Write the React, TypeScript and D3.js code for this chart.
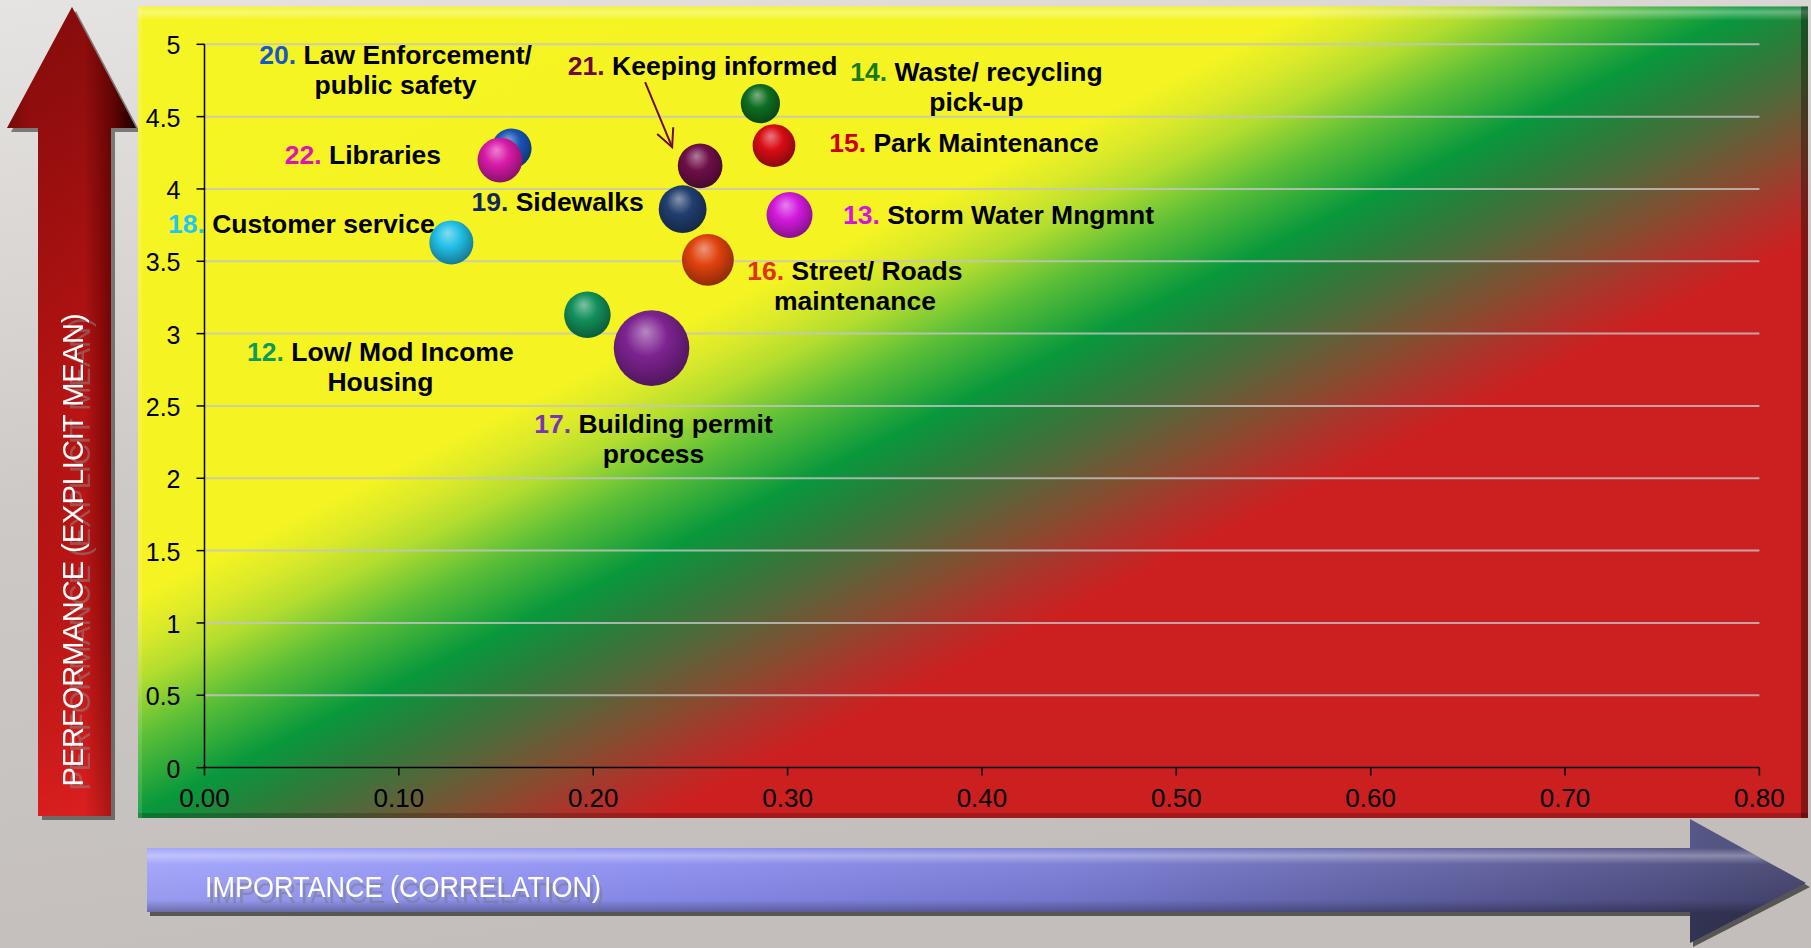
import React from "react";
import * as d3 from "d3";

const W = 1811;
const H = 948;

// ---------- data ----------
const ids = ["20", "22", "18", "12", "17", "19", "21", "16", "14", "15", "13"];
const labelLines: string[][] = [
  ["Law Enforcement/", "public safety"],
  ["Libraries"],
  ["Customer service"],
  ["Low/ Mod Income", "Housing"],
  ["Building permit", "process"],
  ["Sidewalks"],
  ["Keeping informed"],
  ["Street/ Roads", "maintenance"],
  ["Waste/ recycling", "pick-up"],
  ["Park Maintenance"],
  ["Storm Water Mngmnt"],
];
const importance = [0.158, 0.152, 0.127, 0.197, 0.23, 0.246, 0.255, 0.259, 0.286, 0.293, 0.301];
const performance = [4.28, 4.2, 3.63, 3.13, 2.9, 3.86, 4.16, 3.51, 4.59, 4.3, 3.82];
const bubbleSize = [28, 35, 34, 38, 100, 40, 35, 47, 27, 32, 37];

const xTickValues = [0, 0.1, 0.2, 0.3, 0.4, 0.5, 0.6, 0.7, 0.8];
const yTickValues = [0, 0.5, 1, 1.5, 2, 2.5, 3, 3.5, 4, 4.5, 5];
const xTitle = "IMPORTANCE (CORRELATION)";
const yTitle = "PERFORMANCE (EXPLICIT MEAN)";

// ---------- styles / layout ----------
const bubbleColors = ["#1a55b5", "#d81aa8", "#22bfe6", "#12905a", "#7d2390", "#213e6e", "#6e0f48", "#e0420e", "#0f6e22", "#d80c14", "#d21adc"];
const numberColors = ["#1558c8", "#e014b4", "#1ec8f0", "#0e9a5c", "#7a34b4", "#10285c", "#6e0a3c", "#e03214", "#1a7a1a", "#cc0000", "#d414e0"];
// offset of label (centre x, first baseline) from bubble centre
const labelOffsets: [number, number][] = [
  [-116, -84], [-137, 3.5], [-150, -9.4], [-207, 46], [2, 85], [-125, 2],
  [2.5, -91], [147, 20.5], [216, -23], [190, 6], [209, 8.6],
];

const FONT = "'Liberation Sans', Arial, sans-serif";
const plot = { x0: 138, y0: 6.5, x1: 1808, y1: 818 };

export default function App() {
  const x = d3.scaleLinear().domain([0, 0.8]).range([204.5, 1759.4]);
  const y = d3.scaleLinear().domain([0, 5]).range([767.6, 44.3]);
  const r = d3.scaleSqrt().domain([0, 100]).range([0, 37.8]);
  const fmtX = d3.format(".2f");
  const fmtY = d3.format("~g");

  // diagonal gradient along n=(0.447,0.894)
  const L = 1600;
  const gx2 = 0.447 * L;
  const gy2 = 0.894 * L;
  const bgStops: [number, string][] = [
    [0, "#f6f524"],
    [595, "#f5f422"],
    [635, "#d9e92a"],
    [672, "#b0dc30"],
    [722, "#5dbf38"],
    [790, "#08983c"],
    [840, "#2c7c3a"],
    [885, "#54673a"],
    [942, "#8a4a30"],
    [985, "#b2302a"],
    [1025, "#cc2020"],
    [1600, "#cc1f1f"],
  ];

  const order = ids.map((_, i) => i);

  // arrow for 21
  const i21 = ids.indexOf("21");
  const b21x = x(importance[i21]);
  const b21y = y(performance[i21]);
  const aStart: [number, number] = [b21x - 55, b21y - 83.6];
  const aEnd: [number, number] = [b21x - 28, b21y - 18.6];
  const ang = Math.atan2(aEnd[1] - aStart[1], aEnd[0] - aStart[0]);
  const hl = 20;
  const h1: [number, number] = [aEnd[0] - hl * Math.cos(ang - 0.45), aEnd[1] - hl * Math.sin(ang - 0.45)];
  const h2: [number, number] = [aEnd[0] - hl * Math.cos(ang + 0.45), aEnd[1] - hl * Math.sin(ang + 0.45)];

  return (
    <svg width={W} height={H} style={{ position: "absolute", left: 0, top: 0, display: "block" }} fontFamily={FONT}>
      <defs>
        <linearGradient id="pageBg" x1="0" y1="0" x2="0.3" y2="1">
          <stop offset="0" stopColor="#e6e4e2" />
          <stop offset="0.5" stopColor="#cdc9c6" />
          <stop offset="1" stopColor="#c3bebb" />
        </linearGradient>
        <linearGradient id="plotBg" gradientUnits="userSpaceOnUse" x1={0} y1={0} x2={gx2} y2={gy2}>
          {bgStops.map(([p, c], i) => (
            <stop key={i} offset={p / L} stopColor={c} />
          ))}
        </linearGradient>
        <linearGradient id="topBevel" x1="0" y1="0" x2="0" y2="1">
          <stop offset="0" stopColor="#ffffff" stopOpacity="0.05" />
          <stop offset="0.4" stopColor="#ffffff" stopOpacity="0.35" />
          <stop offset="1" stopColor="#ffffff" stopOpacity="0" />
        </linearGradient>
        <linearGradient id="redShaft" x1="0" y1="0" x2="1" y2="0">
          <stop offset="0" stopColor="#9c0e0e" />
          <stop offset="0.18" stopColor="#c11414" />
          <stop offset="0.6" stopColor="#c81616" />
          <stop offset="0.82" stopColor="#7a0606" />
          <stop offset="0.92" stopColor="#3a0000" />
          <stop offset="1" stopColor="#150000" />
        </linearGradient>
        <linearGradient id="redVert" x1="0" y1="0" x2="0" y2="1">
          <stop offset="0" stopColor="#3a0000" stopOpacity="0.45" />
          <stop offset="0.5" stopColor="#3a0000" stopOpacity="0.1" />
          <stop offset="1" stopColor="#ff3030" stopOpacity="0.35" />
        </linearGradient>
        <linearGradient id="blueBar" gradientUnits="userSpaceOnUse" x1={147} y1={0} x2={1806} y2={0}>
          <stop offset="0" stopColor="#a0a2fa" />
          <stop offset="0.3" stopColor="#8c8ef0" />
          <stop offset="0.55" stopColor="#7a7cd6" />
          <stop offset="0.75" stopColor="#6364a8" />
          <stop offset="0.9" stopColor="#52528a" />
          <stop offset="1" stopColor="#44446e" />
        </linearGradient>
        <linearGradient id="blueVert" gradientUnits="userSpaceOnUse" x1={0} y1={848} x2={0} y2={913}>
          <stop offset="0" stopColor="#ffffff" stopOpacity="0.05" />
          <stop offset="0.12" stopColor="#ffffff" stopOpacity="0.35" />
          <stop offset="0.25" stopColor="#ffffff" stopOpacity="0.05" />
          <stop offset="0.8" stopColor="#000000" stopOpacity="0.05" />
          <stop offset="1" stopColor="#000000" stopOpacity="0.35" />
        </linearGradient>
        <filter id="ghostY" x="-10%" y="-30%" width="120%" height="160%">
          <feDropShadow dx="-4" dy="7" stdDeviation="0.6" floodColor="#8a8a8a" floodOpacity="0.5" />
        </filter>
        <filter id="ghostX" x="-10%" y="-20%" width="130%" height="160%">
          <feDropShadow dx="3" dy="6" stdDeviation="0.6" floodColor="#777777" floodOpacity="0.5" />
        </filter>
        {order.map((i) => {
          const c = d3.color(bubbleColors[i])!;
          const light = d3.interpolateRgb(bubbleColors[i], "#ffffff")(0.45);
          const dark = c.darker(1.3).formatHex();
          return (
            <radialGradient key={i} id={`bub${i}`} cx="0.45" cy="0.4" r="0.62" fx="0.42" fy="0.28">
              <stop offset="0" stopColor={light} />
              <stop offset="0.45" stopColor={bubbleColors[i]} />
              <stop offset="1" stopColor={dark} />
            </radialGradient>
          );
        })}
      </defs>

      {/* page background */}
      <rect x={0} y={0} width={W} height={H} fill="url(#pageBg)" />

      {/* Y arrow (red) */}
      <polygon points="76,11 140,132 115,132 115,820 42,820 42,132 11,132" fill="#000" opacity={0.45} />
      <polygon points="72,7 136,128 111,128 111,816 38,816 38,128 7,128" fill="url(#redShaft)" />
      <polygon points="72,7 136,128 111,128 111,816 38,816 38,128 7,128" fill="url(#redVert)" />
      <text
        transform="translate(83,550) rotate(-90)"
        textAnchor="middle"
        fontSize={29}
        fill="#ffffff"
        filter="url(#ghostY)"
      >
        {yTitle}
      </text>

      {/* X arrow (blue) */}
      <polygon points="150,852 1693,852 1693,823 1810,887 1693,947 1693,916 150,916" fill="#000" opacity={0.55} />
      <polygon points="147,848 1690,848 1690,819 1806,883 1690,943 1690,912 147,912" fill="url(#blueBar)" />
      <polygon points="147,848 1690,848 1690,819 1806,883 1690,943 1690,912 147,912" fill="url(#blueVert)" />
      <text
        x={205}
        y={897}
        fontSize={29}
        fill="#ffffff"
        textLength={396}
        lengthAdjust="spacingAndGlyphs"
        filter="url(#ghostX)"
      >
        {xTitle}
      </text>

      {/* plot area */}
      <rect x={plot.x0} y={plot.y0} width={plot.x1 - plot.x0} height={plot.y1 - plot.y0} fill="url(#plotBg)" />
      <rect x={plot.x0} y={plot.y0} width={plot.x1 - plot.x0} height={14} fill="url(#topBevel)" />
      <rect x={plot.x1 - 7} y={plot.y0} width={7} height={plot.y1 - plot.y0} fill="#000" opacity={0.35} />
      <rect x={plot.x0} y={plot.y1 - 5} width={plot.x1 - plot.x0} height={5} fill="#000" opacity={0.2} />
      <rect x={plot.x0} y={plot.y0} width={4} height={plot.y1 - plot.y0} fill="#fff" opacity={0.12} />

      {/* gridlines */}
      {yTickValues
        .filter((v) => v > 0)
        .map((v) => (
          <line
            key={`g${v}`}
            x1={x(0)}
            x2={x(0.8)}
            y1={y(v)}
            y2={y(v)}
            stroke="#c4c4c4"
            strokeOpacity={0.8}
            strokeWidth={2}
          />
        ))}

      {/* axes */}
      <line x1={x(0)} x2={x(0)} y1={y(5)} y2={y(0)} stroke="#000" strokeWidth={1.5} />
      <line x1={x(0)} x2={x(0.8)} y1={y(0)} y2={y(0)} stroke="#000" strokeWidth={1.5} />
      {yTickValues.map((v) => (
        <g key={`yt${v}`}>
          <line x1={x(0) - 8} x2={x(0)} y1={y(v)} y2={y(v)} stroke="#000" strokeWidth={1.5} />
          <text x={x(0) - 24} y={y(v) + 1} textAnchor="end" dominantBaseline="central" fontSize={25} fill="#000">
            {fmtY(v)}
          </text>
        </g>
      ))}
      {xTickValues.map((v) => (
        <g key={`xt${v}`}>
          <line x1={x(v)} x2={x(v)} y1={y(0)} y2={y(0) + 8} stroke="#000" strokeWidth={1.5} />
          <text x={x(v)} y={807} textAnchor="middle" fontSize={26} fill="#000">
            {fmtX(v)}
          </text>
        </g>
      ))}

      {/* bubbles */}
      {order.map((i) => (
        <circle key={`b${i}`} cx={x(importance[i])} cy={y(performance[i])} r={r(bubbleSize[i])} fill={`url(#bub${i})`} />
      ))}

      {/* arrow for 21 */}
      <g stroke="#6e0a3c" strokeWidth={2} fill="none">
        <line x1={aStart[0]} y1={aStart[1]} x2={aEnd[0]} y2={aEnd[1]} />
        <polyline points={`${h1[0]},${h1[1]} ${aEnd[0]},${aEnd[1]} ${h2[0]},${h2[1]}`} />
      </g>

      {/* labels */}
      {order.map((i) => {
        const cx = x(importance[i]) + labelOffsets[i][0];
        const by = y(performance[i]) + labelOffsets[i][1];
        return (
          <g key={`l${i}`} fontSize={26.5} fontWeight="bold" textAnchor="middle">
            {labelLines[i].map((line, k) => (
              <text key={k} x={cx} y={by + k * 30} fill="#000">
                {k === 0 ? (
                  <>
                    <tspan fill={numberColors[i]}>{ids[i]}.</tspan> {line}
                  </>
                ) : (
                  line
                )}
              </text>
            ))}
          </g>
        );
      })}
    </svg>
  );
}
